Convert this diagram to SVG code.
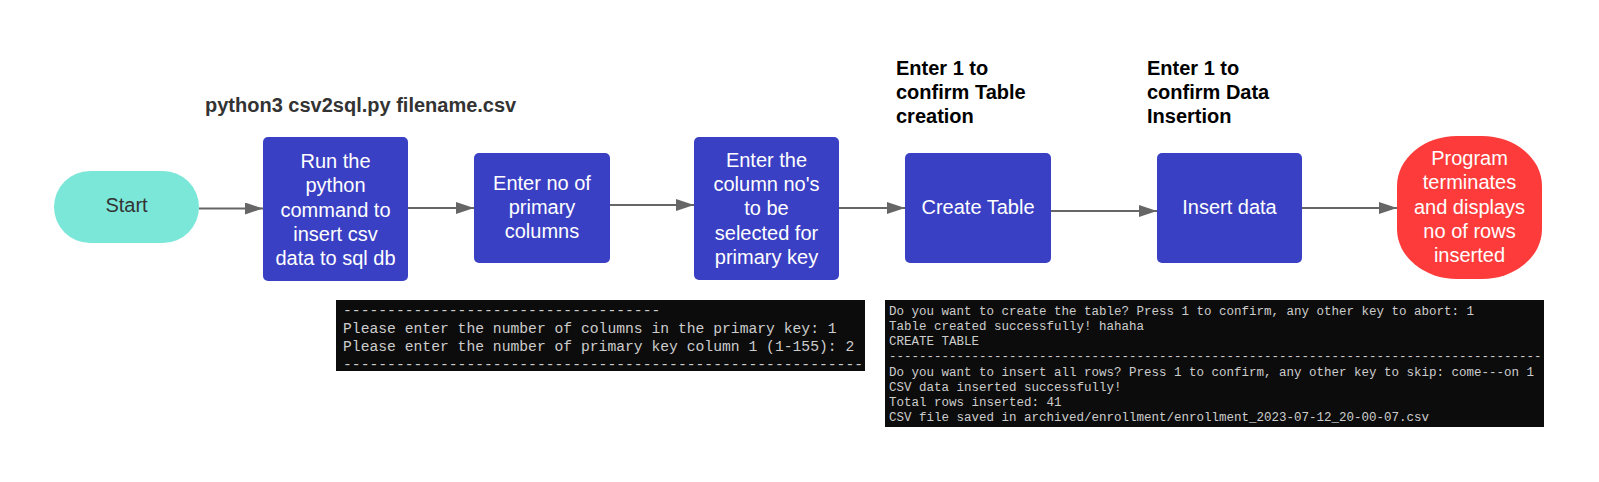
<svg xmlns="http://www.w3.org/2000/svg" width="1599" height="482" viewBox="0 0 1599 482">
<style>
.node{fill:#3a40c4}
.nt{font-family:"Liberation Sans",Arial,sans-serif;font-size:20px;fill:#ffffff;text-anchor:middle}
.lbl{font-family:"Liberation Sans",Arial,sans-serif;font-size:20px;font-weight:bold;fill:#000000}
.conn{stroke:#666666;stroke-width:2;fill:none}
.term{fill:#0c0c0c}
.tt{font-family:"Liberation Mono","DejaVu Sans Mono",monospace;fill:#cccccc}
</style>
<defs>
<marker id="arr" markerWidth="18" markerHeight="12" refX="18" refY="6" orient="auto" markerUnits="userSpaceOnUse">
<path d="M0,0 L18,6 L0,12 Z" fill="#666666"/>
</marker>
</defs>
<rect width="1599" height="482" fill="#ffffff"/>

<g id="connectors">
<line class="conn" x1="199" y1="208.5" x2="263" y2="208.5" marker-end="url(#arr)"/>
<line class="conn" x1="408" y1="208" x2="474" y2="208" marker-end="url(#arr)"/>
<line class="conn" x1="610" y1="205" x2="694" y2="205" marker-end="url(#arr)"/>
<line class="conn" x1="839" y1="208" x2="905" y2="208" marker-end="url(#arr)"/>
<line class="conn" x1="1051" y1="211" x2="1157" y2="211" marker-end="url(#arr)"/>
<line class="conn" x1="1302" y1="208" x2="1397" y2="208" marker-end="url(#arr)"/>
</g>

<g id="label-python">
<text class="lbl" x="205" y="112" style="fill:#333333">python3 csv2sql.py filename.csv</text>
</g>
<g id="label-table">
<text class="lbl" x="896" y="75">Enter 1 to</text>
<text class="lbl" x="896" y="99">confirm Table</text>
<text class="lbl" x="896" y="123">creation</text>
</g>
<g id="label-data">
<text class="lbl" x="1147" y="75">Enter 1 to</text>
<text class="lbl" x="1147" y="99">confirm Data</text>
<text class="lbl" x="1147" y="123">Insertion</text>
</g>

<g id="start">
<rect x="54" y="171" width="145" height="72" rx="36" ry="36" fill="#7be7d9"/>
<text class="nt" x="126.5" y="212" style="fill:#333333">Start</text>
</g>

<g id="run">
<rect class="node" x="263" y="137" width="145" height="144" rx="5"/>
<text class="nt" x="335.5" y="168">Run the</text>
<text class="nt" x="335.5" y="192">python</text>
<text class="nt" x="335.5" y="216.5">command to</text>
<text class="nt" x="335.5" y="241">insert csv</text>
<text class="nt" x="335.5" y="265">data to sql db</text>
</g>

<g id="enter-no">
<rect class="node" x="474" y="153" width="136" height="110" rx="5"/>
<text class="nt" x="542" y="190">Enter no of</text>
<text class="nt" x="542" y="214">primary</text>
<text class="nt" x="542" y="238">columns</text>
</g>

<g id="column-nos">
<rect class="node" x="694" y="137" width="145" height="143" rx="5"/>
<text class="nt" x="766.5" y="167">Enter the</text>
<text class="nt" x="766.5" y="191">column no's</text>
<text class="nt" x="766.5" y="215">to be</text>
<text class="nt" x="766.5" y="239.5">selected for</text>
<text class="nt" x="766.5" y="263.5">primary key</text>
</g>

<g id="create-table">
<rect class="node" x="905" y="153" width="146" height="110" rx="5"/>
<text class="nt" x="978" y="214">Create Table</text>
</g>

<g id="insert-data">
<rect class="node" x="1157" y="153" width="145" height="110" rx="5"/>
<text class="nt" x="1229.5" y="214">Insert data</text>
</g>

<g id="program-end">
<rect x="1397" y="136" width="145" height="143" rx="60" ry="50" fill="#fd3b3b"/>
<text class="nt" x="1469.5" y="165">Program</text>
<text class="nt" x="1469.5" y="189">terminates</text>
<text class="nt" x="1469.5" y="213.5">and displays</text>
<text class="nt" x="1469.5" y="238">no of rows</text>
<text class="nt" x="1469.5" y="262">inserted</text>
</g>

<g id="terminal-1">
<rect class="term" x="336" y="300" width="529" height="71"/>
<g class="tt" font-size="14.7">
<text x="343" y="315">------------------------------------</text>
<text x="343" y="333">Please enter the number of columns in the primary key: 1</text>
<text x="343" y="351">Please enter the number of primary key column 1 (1-155): 2</text>
<text x="343" y="369">-----------------------------------------------------------</text>
</g>
</g>

<g id="terminal-2">
<rect class="term" x="885" y="300" width="659" height="127"/>
<g class="tt" font-size="12.5">
<text x="889" y="315">Do you want to create the table? Press 1 to confirm, any other key to abort: 1</text>
<text x="889" y="330">Table created successfully! hahaha</text>
<text x="889" y="345">CREATE TABLE</text>
<text x="889" y="360">---------------------------------------------------------------------------------------</text>
<text x="889" y="376">Do you want to insert all rows? Press 1 to confirm, any other key to skip: come---on 1</text>
<text x="889" y="391">CSV data inserted successfully!</text>
<text x="889" y="406">Total rows inserted: 41</text>
<text x="889" y="421">CSV file saved in archived/enrollment/enrollment_2023-07-12_20-00-07.csv</text>
</g>
</g>
</svg>
